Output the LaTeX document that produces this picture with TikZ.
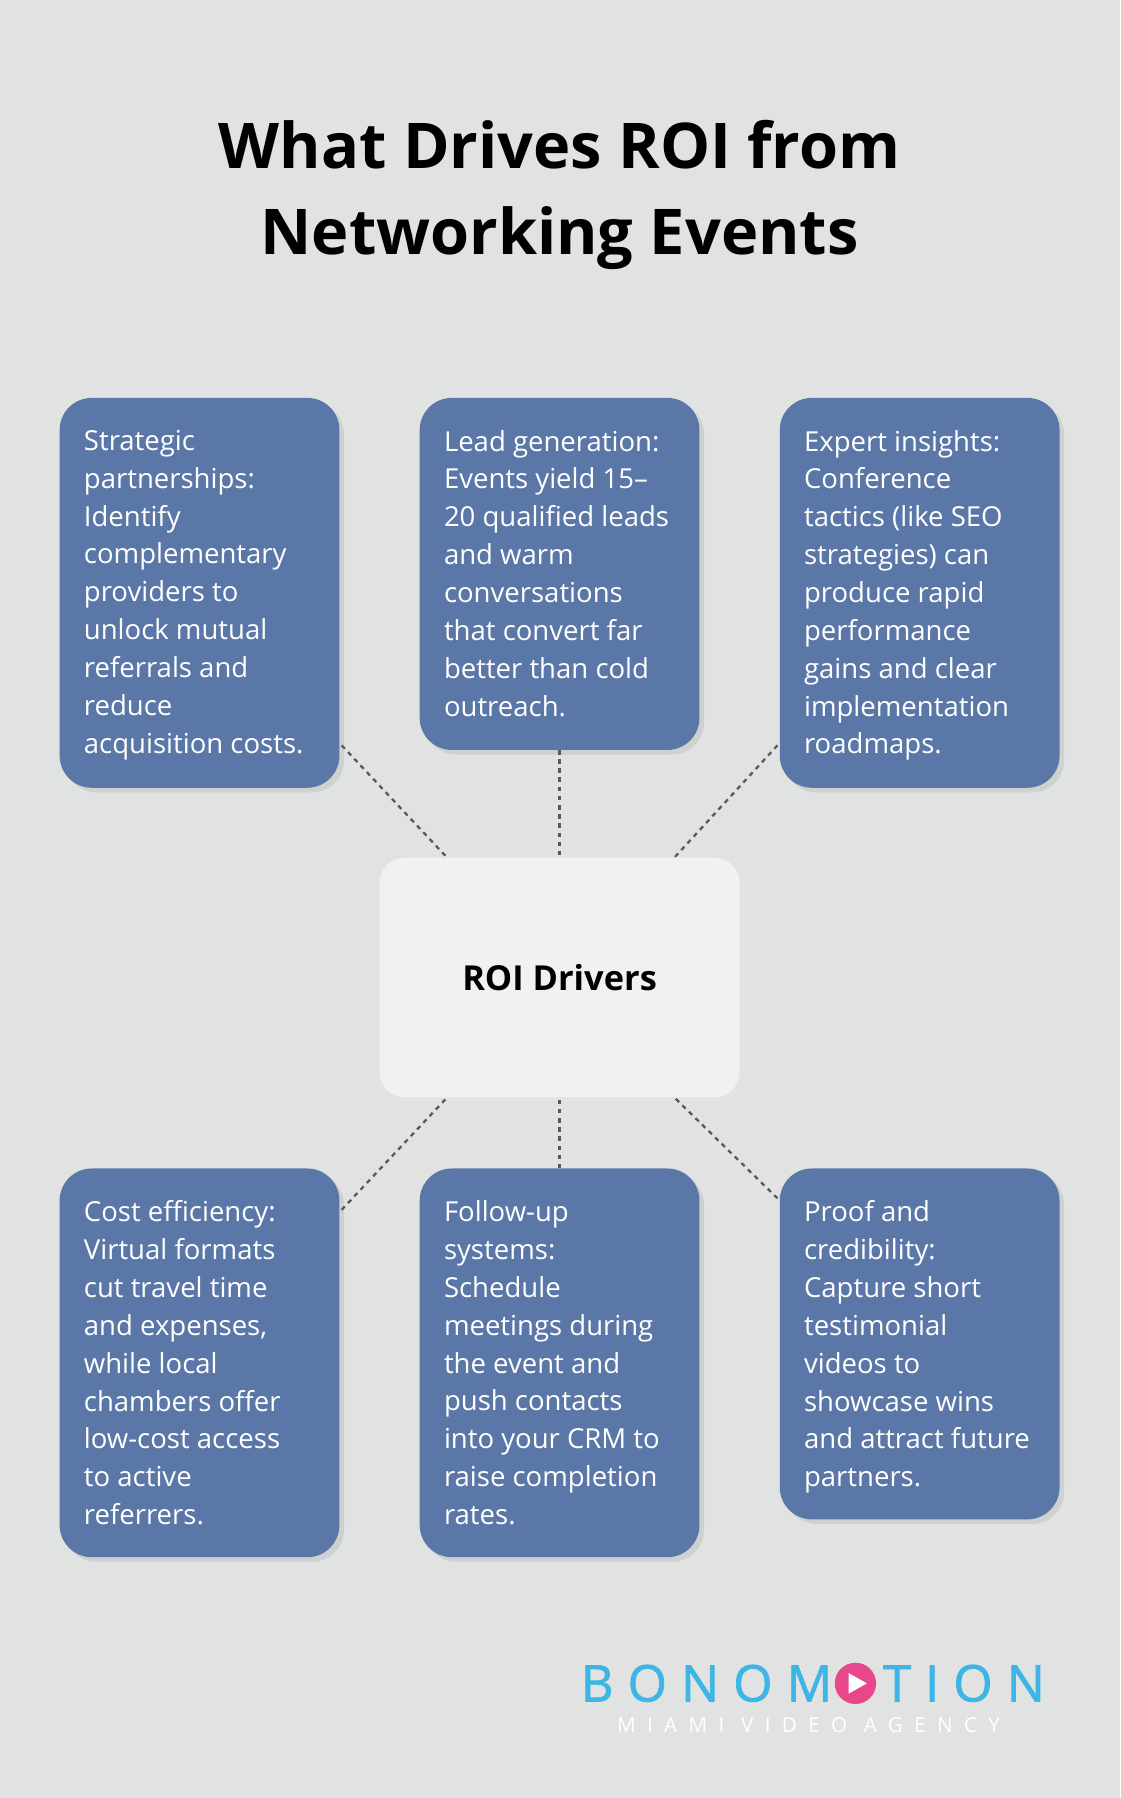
\documentclass[tikz,border=0pt]{standalone}
\usepackage{fontspec}
\setmainfont{Open Sans}
\newfontfamily\logofont[LetterSpace=28,FakeBold=1.5]{Open Sans}
\newfontfamily\subfont[LetterSpace=55]{Open Sans}
\usetikzlibrary{shadows,calc}
\definecolor{bg}{HTML}{E1E2E2}
\definecolor{boxblue}{HTML}{5B77A8}
\definecolor{centerc}{HTML}{F0F1F3}
\definecolor{logob}{HTML}{3DB5E6}
\definecolor{logop}{HTML}{E8478B}
\begin{document}
\begin{tikzpicture}[x=1pt,y=-1pt,
  card/.style={fill=boxblue,rounded corners=28pt,drop shadow={shadow xshift=4pt,shadow yshift=-4pt,opacity=0.18}},
  txt/.style={anchor=north west,align=left,text=white,font=\fontsize{24}{33}\selectfont,inner sep=0pt},
  link/.style={draw=gray!70!black,dashed,line width=2pt,dash pattern=on 4pt off 4pt}]
\fill[bg] (0,0) rectangle (977,1568);
\useasboundingbox (0,0) rectangle (977,1568);
\node[font=\fontsize{55}{75}\selectfont\bfseries,align=center] (title) at (488,170) {What Drives ROI from\\Networking Events};
% cards
\path[card] (52,347) rectangle (296,687);
\path[card] (366,347) rectangle (610,654);
\path[card] (680,347) rectangle (924,687);
\path[card] (52,1019) rectangle (296,1358);
\path[card] (366,1019) rectangle (610,1358);
\path[card] (680,1019) rectangle (924,1325);
\node[fill=centerc,rounded corners=22pt,minimum width=314pt,minimum height=209pt,font=\fontsize{30}{34}\selectfont\bfseries] (c) at (488,852.5) {ROI Drivers};
\node[txt] (t1) at (73,375) {Strategic\\partnerships:\\Identify\\complementary\\providers to\\unlock mutual\\referrals and\\reduce\\acquisition costs.};
\node[txt] (t2) at (387,375) {Lead generation:\\Events yield 15–\\20 qualified leads\\and warm\\conversations\\that convert far\\better than cold\\outreach.};
\node[txt] (t3) at (701,375) {Expert insights:\\Conference\\tactics (like SEO\\strategies) can\\produce rapid\\performance\\gains and clear\\implementation\\roadmaps.};
\node[txt] (t4) at (73,1047) {Cost efficiency:\\Virtual formats\\cut travel time\\and expenses,\\while local\\chambers offer\\low-cost access\\to active\\referrers.};
\node[txt] (t5) at (387,1047) {Follow-up\\systems:\\Schedule\\meetings during\\the event and\\push contacts\\into your CRM to\\raise completion\\rates.};
\node[txt] (t6) at (701,1047) {Proof and\\credibility:\\Capture short\\testimonial\\videos to\\showcase wins\\and attract future\\partners.};
\coordinate (p1) at (298,650); \coordinate (q1) at (390,748);
\coordinate (p2) at (488,654); \coordinate (q2) at (488,748);
\coordinate (p3) at (678,650); \coordinate (q3) at (588,748);
\coordinate (p4) at (298,1055); \coordinate (q4) at (390,957);
\coordinate (p5) at (488,1019); \coordinate (q5) at (488,957);
\coordinate (p6) at (678,1045); \coordinate (q6) at (588,957);
\foreach \i in {1,...,6} \draw[link] (p\i) -- (q\i);
% logo
\node[anchor=east,text=logob,font=\logofont\fontsize{44}{44}\selectfont,inner sep=0pt] (logo1) at (726,1468) {BONOM};
\node[circle,fill=logop,minimum size=36pt,inner sep=0pt] (play) at (746,1468) {};
\fill[white] ($(play)+(-6,-9)$) -- ++(16,9) -- ++(-16,9) -- cycle;
\node[anchor=west,text=logob,font=\logofont\fontsize{44}{44}\selectfont,inner sep=0pt] (logo2) at (770,1468) {TION};
\node[anchor=west,text=white,font=\subfont\fontsize{18}{18}\selectfont,inner sep=0pt] (sub) at (538,1504) {MIAMI VIDEO AGENCY};
\end{tikzpicture}
\end{document}
